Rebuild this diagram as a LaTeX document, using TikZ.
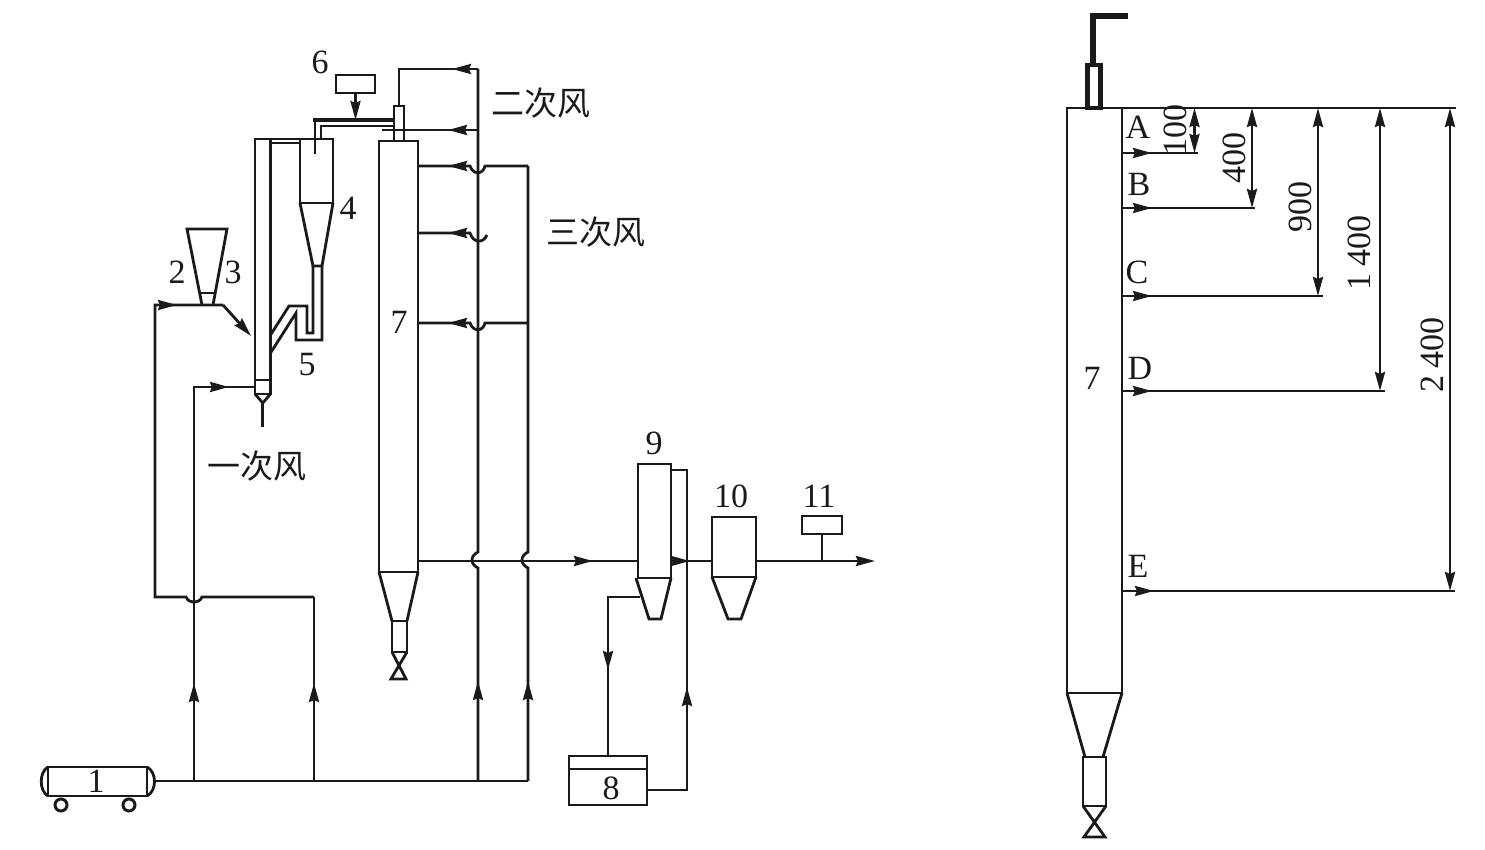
\documentclass[tikz,border=0pt]{standalone}
\usepackage{fontspec}
\setmainfont{Liberation Serif}
\newfontfamily\cjk{Noto Sans CJK SC}
\usetikzlibrary{arrows.meta, decorations.markings}
\definecolor{inkdark}{RGB}{26, 26, 26}

\begin{document}
\begin{tikzpicture}[
    x=0.5pt, y=-0.5pt,
    color=inkdark,
    vessel/.style={rectangle, draw=inkdark, line width=1.4pt, inner sep=0pt, outer sep=0pt},
    wheel/.style={circle, draw=inkdark, line width=1.5pt, inner sep=0pt, outer sep=0pt, minimum size=6pt},
    pipe/.style={line width=1.4pt, color=inkdark},
    flow/.style={-{Stealth[length=9.5pt, width=5pt, inset=1pt]}, line width=1.4pt, color=inkdark},
    flowat/.style={postaction={decorate, decoration={markings, mark=at position #1 with {\arrow{Stealth[length=9.5pt, width=5pt, inset=1pt]}}}}},
    dim/.style={{Stealth[length=9.5pt, width=5pt, inset=1pt]}-{Stealth[length=9.5pt, width=5pt, inset=1pt]}, line width=1.4pt, color=inkdark},
    num/.style={font=\fontsize{17}{18}\selectfont, inner sep=0pt, color=inkdark},
    wind/.style={font=\fontsize{16.5}{17}\selectfont\cjk, inner sep=0pt, color=inkdark},
]
\useasboundingbox (0,0) rectangle (1485,850);

% Blower
\node[vessel, minimum width=49.5pt, minimum height=14.5pt] (blower) at (97.5,781.5) {};
\draw[pipe] (blower.north west) .. controls (39,772) and (39,791) .. (blower.south west);
\draw[pipe] (blower.north east) .. controls (157,772) and (157,791) .. (blower.south east);
\node[wheel] (wheelL) at (61,805) {};
\node[wheel] (wheelR) at (129,805) {};

% Hopper
\coordinate (hopTL) at (187,229);
\coordinate (hopTR) at (227,229);
\coordinate (hopBL) at (202,305);
\coordinate (hopBR) at (213,305);
\draw[pipe] (hopBL) -- (hopTL) -- (hopTR) -- (hopBR);
\draw[pipe] (200,293) -- (216,293);

% Riser
\node[vessel, minimum width=7.75pt, minimum height=127.5pt] (riser) at (262.75,266.5) {};
\draw[pipe] (riser.west |- 0,380) -- (riser.east |- 0,380);
\coordinate (riserTip) at (262.75,403);
\coordinate (riserEnd) at (262.75,427);
\draw[pipe] (riser.south west) -- (riserTip) -- (riser.south east);
\draw[pipe] (riserTip) -- (riserEnd);

% Cyclone
\node[vessel, minimum width=16.5pt, minimum height=32pt] (cyclone) at (316.5,171) {};
\coordinate (cycL) at (313,266);
\coordinate (cycR) at (322,266);
\draw[pipe] (cyclone.south west) -- (cycL) -- (cycR) -- (cyclone.south east);
\draw[pipe] (riser.east |- 0,143) -- (cyclone.west |- 0,143);
\draw[pipe] (riser.north east) -- (cyclone.north west);

% Return leg to riser
\draw[pipe] (cycR) -- (322,340) -- (296,340) -- (296,313) -- (270.5,353);
\draw[pipe] (cycL) -- (313,333) -- (307,333) -- (307,306) -- (289,306) -- (270.5,335);

% Feeder
\node[vessel, minimum width=19.5pt, minimum height=9pt] (feeder) at (355.5,84) {};
\node[vessel, minimum width=5pt, minimum height=17.5pt] (burner) at (399,123.5) {};
\coordinate (feedA) at (315,120);
\coordinate (feedB) at (321,126);
\draw[pipe, line width=1.75pt] (burner.west |- feedA) -- (313,120);
\draw[pipe] (feedA) -- (315,154);
\draw[pipe] (burner.west |- feedB) -- (feedB) -- (321,139);
\draw[flow] (feeder.south) -- (feeder.south |- feedA);

% Furnace
\node[vessel, minimum width=19.5pt, minimum height=215.5pt] (furnace) at (398.5,356.5) {};
\node[vessel, minimum width=7.5pt, minimum height=15.5pt] (furnaceLeg) at (399.5,636.5) {};
\draw[pipe] (furnace.south west) -- (furnaceLeg.north west);
\draw[pipe] (furnace.south east) -- (furnaceLeg.north east);
\draw[pipe] (furnaceLeg.south west) -- (406,679) -- (391,679) -- (furnaceLeg.south east);

% Fabric filters
\node[vessel, minimum width=39pt, minimum height=24.5pt] (tank) at (608,780.5) {};
\draw[pipe] (tank.west |- 0,769) -- (tank.east |- 0,769);
\node[vessel, minimum width=16.5pt, minimum height=57pt] (sep) at (654.5,521) {};
\draw[pipe] (636,578) -- (649,619) -- (661,619) -- (sep.south east);
\node[vessel, minimum width=22pt, minimum height=30pt] (bag) at (734,547) {};
\draw[pipe] (bag.south west) -- (728,619) -- (741,619) -- (bag.south east);
\node[vessel, minimum width=20pt, minimum height=9pt] (meter) at (822,525) {};

% Air mains
\coordinate (blowerOut) at (155,781);
\coordinate (mainA) at (194,781);
\coordinate (mainB) at (314,781);
\coordinate (mainC) at (478,781);
\coordinate (mainD) at (528,781);
\draw[pipe] (blowerOut) -- (mainD);

% Primary air
\draw[pipe, flowat=49pt, flowat=214.5pt] (mainA) -- (194,387) -- (riser.west |- 0,387);
\coordinate (carrierA) at (314,597);
\coordinate (carrierB) at (223,305);
\draw[pipe, flowat=49pt] (mainB) -- (carrierA);
\draw[pipe, flowat=-23pt] (carrierA) -- (202,597) .. controls (199,604) and (189,604) .. (186,597) -- (155,597) -- (155,305) -- (carrierB);
\draw[flow] (carrierB) -- (251,336);

% Secondary air
\coordinate (secTop) at (478,69);
\coordinate (secMid) at (478,130);
\draw[pipe, flowat=50pt] (mainC) -- (478,568) .. controls (470,564) and (470,556) .. (478,552) -- (secTop);
\draw[pipe, flowat=13pt] (secTop) -- (399,69) -- (burner.north);
\draw[pipe, flowat=15pt] (secMid) -- (382,130);

% Tertiary air
\coordinate (terTop) at (528,166);
\coordinate (terMid) at (528,323);
\draw[pipe, flowat=50pt] (mainD) -- (528,568) .. controls (520,564) and (520,556) .. (528,552) -- (terTop);
\draw[pipe, flowat=-15pt] (terTop) -- (485,166) .. controls (483,175) and (473,175) .. (470,166) -- (furnace.east |- terTop);
\draw[pipe, flowat=-15pt] (terMid) -- (485,323) .. controls (483,332) and (473,332) .. (470,323) -- (furnace.east |- terMid);
\coordinate (terHook) at (487,235);
\draw[pipe, flowat=-15pt] (terHook) .. controls (483,244) and (473,243) .. (470,233) -- (furnace.east |- 0,233);

% Flue gas
\coordinate (stack) at (875,561);
\draw[pipe, flowat=87.5pt] (furnace.east |- stack) -- (sep.west |- stack);
\draw[pipe, flowat=9.5pt] (sep.east |- stack) -- (bag.west |- stack);
\draw[flow] (bag.east |- stack) -- (stack);
\draw[pipe] (meter.south) -- (meter.south |- stack);

% Ash return
\coordinate (sepOut) at (640,597);
\draw[pipe, flowat=52.5pt] (sepOut) -- (tank.north |- sepOut) -- (tank.north);
\draw[pipe, flowat=71.5pt] (tank.east |- 0,790) -- (687,790) -- (687,470) -- (sep.east |- 0,470);

% Sampling column
\node[vessel, minimum width=27.5pt, minimum height=292.5pt] (column) at (1094.5,400.5) {};
\node[vessel, minimum width=11.5pt, minimum height=24.5pt] (columnLeg) at (1094.5,781.5) {};
\draw[pipe] (column.south west) -- (1085,757);
\draw[pipe] (column.south east) -- (1103,757);
\draw[pipe] (columnLeg.south west) -- (1105,837) -- (1084,837) -- (columnLeg.south east);
\node[vessel, line width=2.25pt, minimum width=6.5pt, minimum height=21.5pt] (columnTop) at (1094,86.5) {};
\coordinate (gunEnd) at (1128,16);
\draw[line width=3pt] (1092.5,66) -- (1092.5,16) -- (gunEnd);

% Sampling ports
\coordinate (datum) at (1456,108);
\coordinate (leadA) at (1198,153);
\coordinate (leadB) at (1255,208);
\coordinate (leadC) at (1323,296);
\coordinate (leadD) at (1385,391);
\coordinate (leadE) at (1455,591);
\draw[pipe] (column.north east) -- (datum);
\draw[pipe, flowat=15pt] (column.east |- leadA) -- (leadA);
\draw[pipe, flowat=15pt] (column.east |- leadB) -- (leadB);
\draw[pipe, flowat=15pt] (column.east |- leadC) -- (leadC);
\draw[pipe, flowat=15pt] (column.east |- leadD) -- (leadD);
\draw[pipe, flowat=16pt] (column.east |- leadE) -- (leadE);

% Dimensions
\coordinate (dimA) at (1194.5,108);
\coordinate (dimB) at (1252,108);
\coordinate (dimC) at (1318,108);
\coordinate (dimD) at (1380,108);
\coordinate (dimE) at (1450,108);
\draw[dim] (dimA) -- (dimA |- leadA);
\draw[dim] (dimB) -- (dimB |- leadB);
\draw[dim] (dimC) -- (dimC |- leadC);
\draw[dim] (dimD) -- (dimD |- leadD);
\draw[dim] (dimE) -- (dimE |- leadE);

% Labels
\node[num] (lab1) at (96,781) {1};
\node[num] (lab2) at (177,272) {2};
\node[num] (lab3) at (233,272) {3};
\node[num] (lab4) at (348,208) {4};
\node[num] (lab5) at (307,365) {5};
\node[num] (lab6) at (320,62) {6};
\node[num] (lab7) at (399,322) {7};
\node[num] (lab8) at (611,788) {8};
\node[num] (lab9) at (654,443) {9};
\node[num] (lab10) at (731,496) {10};
\node[num] (lab11) at (819,496) {11};
\node[wind] (airSec) at (541,103) {二次风};
\node[wind] (airTer) at (596,232) {三次风};
\node[wind] (airPri) at (257,466) {一次风};
\node[num] (labA) at (1138,127) {A};
\node[num] (labB) at (1139,184) {B};
\node[num] (labC) at (1137,272) {C};
\node[num] (labD) at (1140,368) {D};
\node[num] (labE) at (1138,566) {E};
\node[num] (labCol) at (1092,378) {7};
\node[num, rotate=90] (dim100) at (1175,130) {100};
\node[num, rotate=90] (dim400) at (1234,158) {400};
\node[num, rotate=90] (dim900) at (1300,207) {900};
\node[num, rotate=90] (dim1400) at (1359,253) {1\hspace{.22em}400};
\node[num, rotate=90] (dim2400) at (1432,355) {2\hspace{.22em}400};

\end{tikzpicture}
\end{document}
